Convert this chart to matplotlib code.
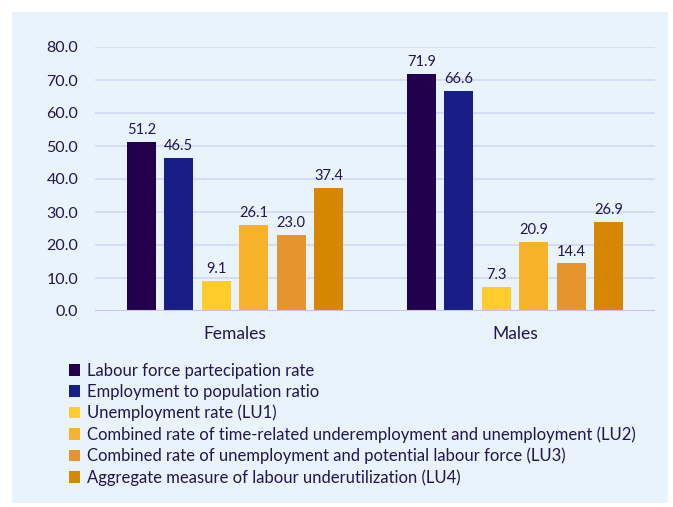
import matplotlib
matplotlib.use("Agg")
import matplotlib.pyplot as plt
from matplotlib.patches import Patch, Rectangle
import numpy as np

categories = ["Females", "Males"]
series = [
    "Labour force partecipation rate",
    "Employment to population ratio",
    "Unemployment rate (LU1)",
    "Combined rate of time-related underemployment and unemployment (LU2)",
    "Combined rate of unemployment and potential labour force (LU3)",
    "Aggregate measure of labour underutilization (LU4)",
]
lfpr = [51.2, 71.9]
epr = [46.5, 66.6]
lu1 = [9.1, 7.3]
lu2 = [26.1, 20.9]
lu3 = [23.0, 14.4]
lu4 = [37.4, 26.9]
values = [lfpr, epr, lu1, lu2, lu3, lu4]
colors = ["#23004C", "#181E86", "#FFCC2C", "#F7B22B", "#E5952D", "#D68600"]
txt = "#23154F"

plt.rcParams['font.family'] = ['Lato', 'DejaVu Sans']

W, H = 673, 507
fig = plt.figure(figsize=(W/100, H/100), dpi=100, facecolor="white")
bg = Rectangle((12/W, 4/H), (668-12)/W, (495-4)/H, transform=fig.transFigure,
               facecolor="#E9F3FC", edgecolor="none", zorder=-10)
fig.patches.append(bg)

ax = fig.add_axes([95/W, 1-311/H, (655-95)/W, (311-47)/H])
ax.set_facecolor("none")
x = np.arange(len(categories))
step = 0.134
width = 0.104
for i, (vals, c) in enumerate(zip(values, colors)):
    pos = x + (i - 2.5) * step
    bars = ax.bar(pos, vals, width, color=c, label=series[i], zorder=3)
    for b, v in zip(bars, vals):
        ax.text(b.get_x() + b.get_width()/2, v + 1.5, f"{v:.1f}", ha="center",
                va="bottom", fontsize=10.5, color=txt)

ax.set_xlim(-0.5, 1.5)
ax.set_ylim(0, 80)
ax.set_yticks(np.arange(0, 81, 10))
ax.set_yticklabels([f"{t:.1f}" for t in np.arange(0, 81, 10)], fontsize=11.5, color=txt)
ax.set_xticks(x)
ax.set_xticklabels(categories, fontsize=12.5, color=txt)
ax.tick_params(length=0, pad=12)
ax.tick_params(axis='x', pad=11)
ax.grid(axis='y', color="#D3D8F4", linewidth=1.2, zorder=0)
ax.axhline(0, color="#C9C3EE", linewidth=1.5, zorder=4)
for s in ax.spines.values():
    s.set_visible(False)

handles = [Patch(facecolor=c, edgecolor="none") for c in colors]
leg = fig.legend(handles, series, loc="upper left", bbox_to_anchor=(62/W, 1-356/H),
                 frameon=False, fontsize=12, handlelength=0.7, handleheight=0.7,
                 handletextpad=0.4, labelspacing=0.3, borderaxespad=0)
for t in leg.get_texts():
    t.set_color(txt)

fig.savefig("out.png", dpi=100, facecolor="white")
